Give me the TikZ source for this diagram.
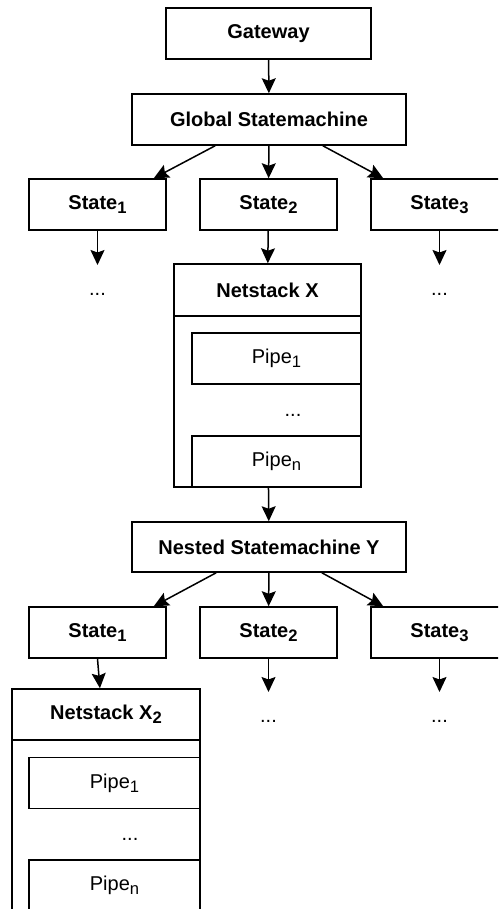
\documentclass[tikz,border=0pt]{standalone}
\usepackage{fontspec}
\setmainfont{Liberation Sans}
\usetikzlibrary{arrows.meta}
\newcommand{\lowidx}[1]{\raisebox{-4pt}{\fontsize{16.6}{18}\selectfont #1}}

\begin{document}
\begin{tikzpicture}[x=1pt,y=-1pt,line width=1.5pt,>={Stealth[length=15pt,width=14pt,inset=2.5pt]},
	box/.style={draw,fill=white,inner sep=0pt,minimum height=51pt,font=\fontsize{20}{24}\selectfont\bfseries},
	statebox/.style={box,minimum width=137pt},
	pipebox/.style={box,minimum width=169pt,font=\fontsize{20}{24}\selectfont},
	dots/.style={inner sep=0pt,anchor=north,text height=30pt,text depth=0pt,font=\fontsize{20}{24}\selectfont}]
		\useasboundingbox (0,0) rectangle (498,909);
		\clip (0,0) rectangle (498,909);
		\fill[white] (0,0) rectangle (498,909);
		% top level
		\node[box,minimum width=205pt] (gateway) at (268.5,33.5) {Gateway};
		\node[box,minimum width=274pt] (global) at (269,119.5) {Global Statemachine};
		\node[statebox] (s1) at (97.5,204.5) {State\lowidx{1}};
		\node[statebox] (s2) at (268.5,204.5) {State\lowidx{2}};
		\node[statebox] (s3) at (439.5,204.5) {State\lowidx{3}};
		\node[dots] (d1) at (97.5,265) {...};
		\node[dots] (d3) at (439.5,265) {...};
		% netstack X
		\node[box,minimum width=187pt,minimum height=223pt] (netx) at (267.5,375.5) {};
		\node[box,minimum width=187pt,minimum height=52pt,anchor=north] (netxhead) at (netx.north) {Netstack X};
		\node[pipebox] (p1) at (276.5,358.5) {Pipe\lowidx{1}};
		\node[dots] (pd) at (293,386) {...};
		\node[pipebox] (pn) at (276.5,461.5) {Pipe\lowidx{n}};
		% nested level
		\node[box,minimum width=274pt,minimum height=50pt] (nested) at (269,547) {Nested Statemachine Y};
		\node[statebox] (t1) at (97.5,632.5) {State\lowidx{1}};
		\node[statebox] (t2) at (268.5,632.5) {State\lowidx{2}};
		\node[statebox] (t3) at (439.5,632.5) {State\lowidx{3}};
		\node[dots] (e2) at (268.5,692) {...};
		\node[dots] (e3) at (439.5,692) {...};
		% netstack X2
		\node[box,minimum width=188pt,minimum height=223pt] (netxx) at (106,800.5) {};
		\node[box,minimum width=188pt,minimum height=51pt,anchor=north] (netxxhead) at (netxx.north) {Netstack X\lowidx{2}};
		\node[pipebox,minimum width=171pt] (q1) at (114.5,783) {Pipe\lowidx{1}};
		\node[dots] (qd) at (130,810) {...};
		\node[pipebox,minimum width=171pt] (qn) at (114.5,885.5) {Pipe\lowidx{n}};
		% arrows
		\draw[->] (gateway) -- (global);
		\draw[->] (global.206) -- (s1.25);
		\draw[->] (global) -- (s2);
		\draw[->] (global.334) -- (s3.155);
		\draw[->] (s1.south) -- (d1.north);
		\draw[->] (s2) -- (netxhead);
		\draw[->] (s3.south) -- (d3.north);
		\draw[->] (netx) -- (nested);
		\draw[->] (nested.206) -- (t1.25);
		\draw[->] (nested) -- (t2);
		\draw[->] (nested.334) -- (t3.155);
		\draw[->] (t1.south) -- (netxxhead.103);
		\draw[->] (t2.south) -- (e2.north);
		\draw[->] (t3.south) -- (e3.north);
\end{tikzpicture}
\end{document}
